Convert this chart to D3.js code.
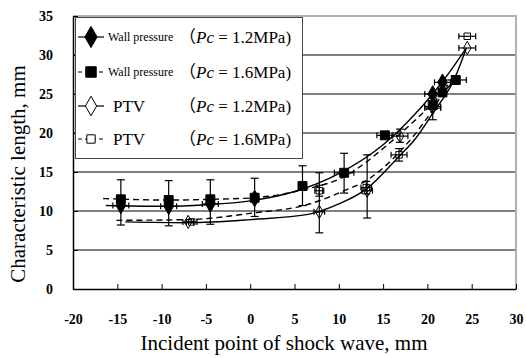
<!DOCTYPE html>
<html>
<head>
<meta charset="utf-8">
<script src="https://cdn.jsdelivr.net/npm/d3@7"></script>
<style>
  body { margin: 0; background: #fff; }
  svg text { font-family: "Liberation Serif", "Times New Roman", serif; }
</style>
</head>
<body>
<div id="chart"></div>
<script>
// tick values
var xTicks = [-20, -15, -10, -5, 0, 5, 10, 15, 20, 25, 30];
var yTicks = [0, 5, 10, 15, 20, 25, 30, 35];

// Wall pressure, Pc = 1.2MPa
var wall12X = [-14.6, -9.2, -4.5, 0.5, 20.6, 21.7];
var wall12Y = [10.7, 10.6, 10.9, 11.6, 25.0, 26.5];
var wall12XErr = [0.9, 0.9, 0.9, 0, 0.9, 0.9];

// Wall pressure, Pc = 1.6MPa
var wall16X = [-14.6, -9.2, -4.5, 0.5, 5.9, 10.6, 15.2, 20.6, 21.7, 23.2];
var wall16Y = [11.5, 11.4, 11.5, 11.7, 13.2, 14.9, 19.7, 23.6, 25.2, 26.8];
var wall16Lo = [8.2, 8.1, 8.3, 9.3, 10.7, 12.3, null, null, null, null];
var wall16Hi = [14.0, 13.9, 14.0, 14.2, 15.8, 17.4, null, null, null, null];
var wall16XErr = [0, 0, 0, 0, 0, 1.1, 0.9, 0, 0, 1.2];

// PTV, Pc = 1.2MPa
var ptv12X = [-7.0, 7.8, 13.2, 16.9, 20.6, 24.5];
var ptv12Y = [8.6, 9.9, 12.6, 19.6, 23.2, 30.9];
var ptv12Lo = [null, 7.2, 9.1, 18.8, 21.7, null];
var ptv12Hi = [null, 14.9, 17.2, 20.5, 24.5, null];
var ptv12XErr = [0.6, 0.6, 0.6, 0.9, 0.9, 0.95];

// PTV, Pc = 1.6MPa
var ptv16X = [-6.6, 7.8, 13.1, 16.8, 20.6, 24.5];
var ptv16Y = [8.6, 12.6, 13.0, 17.2, 23.4, 32.4];
var ptv16Lo = [null, 11.9, 12.2, 16.4, null, null];
var ptv16Hi = [null, 13.3, 13.8, 18.0, null, null];
var ptv16XErr = [0.6, 0.5, 0.6, 0.9, 0.9, 0.95];

// fitted curves
var fitWall12 = [[-16.3, 10.7], [-10, 10.6], [-5, 10.8], [0, 11.3], [5, 12.5], [10, 14.8], [15, 18.5], [18, 21.7], [20.6, 25.0], [22.5, 27.8], [24.4, 30.9]];
var fitWall16 = [[-16.6, 11.6], [-9, 11.4], [-4.5, 11.5], [0.5, 11.7], [5.9, 12.7], [10.6, 14.4], [15.2, 18.2], [18, 21.0], [20.6, 23.8], [23.2, 26.9]];
var fitPtv12 = [[-14.1, 8.6], [-7, 8.5], [0, 8.9], [6.7, 9.6], [10, 10.9], [13.1, 12.8], [16.8, 17.0], [18.6, 19.2], [20.7, 22.7], [23, 26.8], [24.4, 30.9]];
var fitPtv16 = [[-15.1, 8.8], [-7, 8.9], [0, 9.7], [6.7, 10.9], [10.6, 12.6], [13.1, 13.9], [16.8, 17.5], [20.6, 23.0], [22.3, 26.2]];

var legendNames = ["Wall pressure", "Wall pressure", "PTV", "PTV"];
var legendPc = ["1.2MPa)", "1.6MPa)", "1.2MPa)", "1.6MPa)"];

function init() {
    var w = 526, h = 358;
    var left = 73, right = 516, top = 16, bottom = 289;

    var svg = d3.select("#chart").append("svg")
        .attr("width", w)
        .attr("height", h);

    var xScale = d3.scaleLinear().domain([-20, 30]).range([left, right]);
    var yScale = d3.scaleLinear().domain([0, 35]).range([bottom, top]);

    // gridlines
    svg.selectAll(".grid")
        .data(yTicks.filter(function(d) { return d > 0 && d < 35; }))
        .enter().append("line")
        .attr("x1", left).attr("x2", right)
        .attr("y1", function(d) { return yScale(d); })
        .attr("y2", function(d) { return yScale(d); })
        .attr("stroke", "#000").attr("stroke-width", 1);

    // top and right frame (grey)
    svg.append("path")
        .attr("d", "M" + left + "," + top + "H" + right + "V" + bottom)
        .attr("fill", "none").attr("stroke", "#b0b0b0").attr("stroke-width", 2);

    // axes, plain hyphen for negatives
    var fmt = function(d) { return String(d); };
    var xAxis = svg.append("g")
        .attr("transform", "translate(0," + bottom + ")")
        .call(d3.axisBottom(xScale).tickValues(xTicks).tickFormat(fmt).tickSize(-5).tickPadding(24).tickSizeOuter(0));
    var yAxis = svg.append("g")
        .attr("transform", "translate(" + left + ",0)")
        .call(d3.axisLeft(yScale).tickValues(yTicks).tickFormat(fmt).tickSize(-5).tickPadding(20).tickSizeOuter(0));

    [xAxis, yAxis].forEach(function(a) {
        a.selectAll("text")
            .attr("font-family", "Liberation Serif")
            .attr("font-weight", "bold")
            .attr("font-size", "14px")
            .attr("fill", "#000");
        a.select(".domain").attr("stroke-width", 1.5);
    });
    xAxis.selectAll("text").attr("dy", "0.35em").attr("y", 30);

    // axis titles
    svg.append("text")
        .attr("x", 284)
        .attr("y", 350)
        .attr("text-anchor", "middle")
        .attr("font-size", "21px")
        .text("Incident point of shock wave, mm");

    svg.append("text")
        .attr("transform", "translate(25,174) rotate(-90)")
        .attr("text-anchor", "middle")
        .attr("font-size", "21px")
        .text("Characteristic length, mm");

    // fitted curves
    var line = d3.line()
        .x(function(d) { return xScale(d[0]); })
        .y(function(d) { return yScale(d[1]); })
        .curve(d3.curveMonotoneX);

    [[fitWall12, null], [fitWall16, "6,4"], [fitPtv12, null], [fitPtv16, "6,4"]].forEach(function(f) {
        svg.append("path")
            .attr("d", line(f[0]))
            .attr("fill", "none")
            .attr("stroke", "#000")
            .attr("stroke-width", 1.4)
            .attr("stroke-dasharray", f[1]);
    });

    // error bars
    function errorBars(xs, ys, lo, hi, xe) {
        var g = svg.append("g").attr("stroke", "#000").attr("stroke-width", 1.2);
        xs.forEach(function(xv, i) {
            var px = xScale(xv), py = yScale(ys[i]);
            if (lo && lo[i] != null) {
                var a = yScale(lo[i]), b = yScale(hi[i]);
                g.append("line").attr("x1", px).attr("x2", px).attr("y1", a).attr("y2", b);
                g.append("line").attr("x1", px - 4).attr("x2", px + 4).attr("y1", a).attr("y2", a);
                g.append("line").attr("x1", px - 4).attr("x2", px + 4).attr("y1", b).attr("y2", b);
            }
            if (xe && xe[i]) {
                var l = xScale(xv - xe[i]), r = xScale(xv + xe[i]);
                g.append("line").attr("x1", l).attr("x2", r).attr("y1", py).attr("y2", py);
                g.append("line").attr("x1", l).attr("x2", l).attr("y1", py - 3).attr("y2", py + 3);
                g.append("line").attr("x1", r).attr("x2", r).attr("y1", py - 3).attr("y2", py + 3);
            }
        });
    }

    errorBars(ptv12X, ptv12Y, ptv12Lo, ptv12Hi, ptv12XErr);
    errorBars(ptv16X, ptv16Y, ptv16Lo, ptv16Hi, ptv16XErr);
    errorBars(wall12X, wall12Y, null, null, wall12XErr);
    errorBars(wall16X, wall16Y, wall16Lo, wall16Hi, wall16XErr);

    // markers
    var diamondBig = d3.symbol().type(d3.symbolDiamond).size(80);
    var squareBig = d3.symbol().type(d3.symbolSquare).size(80);
    var diamondSmall = d3.symbol().type(d3.symbolDiamond).size(50);
    var squareSmall = d3.symbol().type(d3.symbolSquare).size(42);

    function markers(xs, ys, sym, filled) {
        svg.append("g").selectAll("path")
            .data(xs)
            .enter().append("path")
            .attr("d", sym)
            .attr("transform", function(d, i) { return "translate(" + xScale(d) + "," + yScale(ys[i]) + ")"; })
            .attr("fill", filled ? "#000" : "#fff")
            .attr("fill-opacity", filled ? 1 : 0)
            .attr("stroke", "#000")
            .attr("stroke-width", 1);
    }

    markers(ptv12X, ptv12Y, diamondSmall, false);
    markers(ptv16X, ptv16Y, squareSmall, false);
    markers(wall12X, wall12Y, diamondBig, true);
    markers(wall16X, wall16Y, squareBig, true);

    // legend
    var lg = svg.append("g");
    lg.append("rect")
        .attr("x", 75.5).attr("y", 17.5)
        .attr("width", 227).attr("height", 141)
        .attr("fill", "#fff").attr("stroke", "#444").attr("stroke-width", 1);

    var rowY = [37, 72, 106, 139];
    var legSyms = [
        [d3.symbol().type(d3.symbolDiamond).size(130), true, null],
        [d3.symbol().type(d3.symbolSquare).size(110), true, "4,3"],
        [d3.symbol().type(d3.symbolDiamond).size(110), false, null],
        [d3.symbol().type(d3.symbolSquare).size(70), false, "4,3"]
    ];
    rowY.forEach(function(yy, i) {
        lg.append("line")
            .attr("x1", 78).attr("x2", 104)
            .attr("y1", yy).attr("y2", yy)
            .attr("stroke", "#000").attr("stroke-width", 1.2)
            .attr("stroke-dasharray", legSyms[i][2]);
        lg.append("path")
            .attr("d", legSyms[i][0])
            .attr("transform", "translate(91," + yy + ")")
            .attr("fill", legSyms[i][1] ? "#000" : "#fff")
            .attr("stroke", "#000").attr("stroke-width", 1);
        var small = legendNames[i] === "Wall pressure";
        lg.append("text")
            .attr("x", small ? 108 : 113)
            .attr("y", yy + (small ? 4 : 6))
            .attr("font-size", small ? "12px" : "17px")
            .text(legendNames[i]);
        var t = lg.append("text")
            .attr("x", 179)
            .attr("y", yy + 6)
            .attr("font-size", "17px");
        t.append("tspan").attr("font-family", "Noto Sans CJK JP").text("（");
        t.append("tspan").attr("font-style", "italic").text("Pc");
        t.append("tspan").text(" = " + legendPc[i]);
    });
}

window.onload = init;
</script>
</body>
</html>
